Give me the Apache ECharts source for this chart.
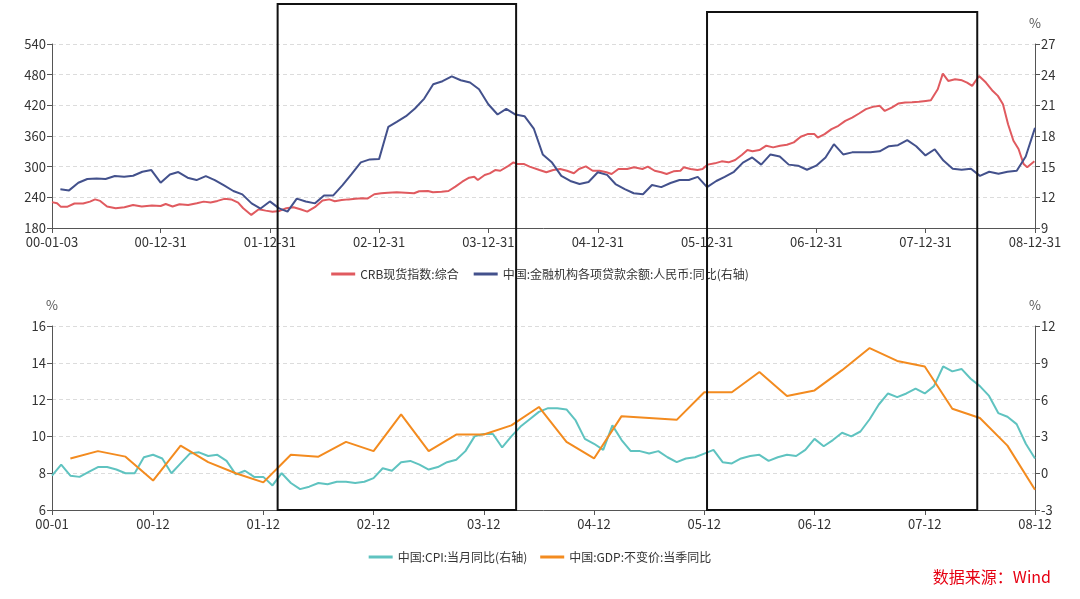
<!DOCTYPE html>
<html>
<head>
<meta charset="utf-8">
<script src="https://cdn.jsdelivr.net/npm/echarts@6/dist/echarts.min.js"></script>
<style>
html,body{margin:0;padding:0;background:#fff;}
#chart{width:1080px;height:599px;}
</style>
</head>
<body>
<div id="chart"></div>
<script>
// ---------- DATA ----------
const crbDates = ['2000-01-03','2000-01-20','2000-02-01','2000-02-24','2000-03-18','2000-04-16','2000-05-09','2000-05-26','2000-06-12','2000-07-05','2000-08-03','2000-09-01','2000-09-30','2000-10-29','2000-12-02','2000-12-31',
'2001-01-17','2001-02-09','2001-03-04','2001-04-02','2001-05-01','2001-05-24','2001-06-16','2001-07-09','2001-08-01','2001-08-24','2001-09-16','2001-10-03','2001-10-30','2001-11-24','2001-12-17',
'2002-01-09','2002-02-01','2002-02-24','2002-03-20','2002-04-12','2002-05-05','2002-06-02','2002-06-25','2002-07-18','2002-08-05','2002-08-28','2002-09-20','2002-10-13','2002-11-05','2002-11-22','2002-12-15',
'2003-01-07','2003-01-30','2003-02-28','2003-03-29','2003-04-27','2003-05-14','2003-06-12','2003-06-29','2003-07-28','2003-08-20','2003-09-12','2003-10-05','2003-10-28','2003-11-14','2003-11-26','2003-12-19',
'2004-01-05','2004-01-23','2004-02-09','2004-03-03','2004-03-24','2004-04-06','2004-04-29','2004-05-17','2004-06-19','2004-07-12','2004-08-04','2004-08-27','2004-09-19','2004-10-12','2004-10-29','2004-11-21','2004-12-14',
'2005-01-06','2005-01-29','2005-02-15','2005-03-10','2005-04-08','2005-05-01','2005-05-29','2005-06-16','2005-07-09','2005-07-31','2005-08-18','2005-09-10','2005-10-03','2005-10-14','2005-11-06','2005-11-29','2005-12-16',
'2006-01-02','2006-01-26','2006-02-18','2006-03-13','2006-04-04','2006-04-27','2006-05-15','2006-06-01','2006-06-24','2006-07-17','2006-08-09','2006-09-01','2006-09-24','2006-10-17','2006-11-09','2006-12-02','2006-12-25',
'2007-01-05','2007-01-28','2007-02-20','2007-03-15','2007-04-07','2007-04-30','2007-05-23','2007-06-15','2007-07-08','2007-07-31','2007-08-17','2007-09-09','2007-10-01','2007-10-24','2007-11-16','2007-12-09',
'2008-01-01','2008-01-18','2008-02-10','2008-02-27','2008-03-16','2008-04-08','2008-05-01','2008-05-18','2008-06-04','2008-06-27','2008-07-20','2008-08-12','2008-08-29','2008-09-15','2008-10-02','2008-10-20','2008-11-06','2008-11-23','2008-12-05','2008-12-29'];
const crbValues = [230.6,228.4,221.8,221.8,228,228,231.6,236,233,222,218.6,220.6,225,222,224,223,
227,222,226.4,225,228.4,231.6,230,233,237,236,229.6,218.6,205.6,216.6,214,
212,213.4,218.6,220.6,216.6,212,222,233.6,236,232.3,234.8,236,237,238,237.5,246,
247.9,249.2,249.8,249.2,247.9,251.8,252.4,249.8,251.1,252.4,261,270.6,278.4,280.4,273.9,283.7,
286.9,293.4,292,299.9,308.4,305,305,300,293.5,289,293.5,295.5,292,287,295.5,300.6,292,
292,289,285.7,295.5,295.5,298.7,295.5,300,292,289,285.7,290.9,292,298.7,295.5,293.5,295.5,
304,306.5,310.4,308.5,313,323.4,332.5,330,332.5,341,337.7,341,343,347.5,358.5,363.7,363.7,
357,363.7,373.5,380,389.7,396,404,412.5,417,419,409,415.7,423.5,425.5,426,426.8,
428.7,430,451.5,482,467.7,471,469,464.5,458,477.5,464.5,448,438.5,422,383,350.7,334.5,305,298.7,310.4];

// monthly, 2000-01 .. 2008-12
const loanValues = [
12.78,12.68,13.43,13.79,13.85,13.79,14.08,14.02,14.11,14.5,14.67,13.43,
14.24,14.47,13.92,13.69,14.08,13.69,13.17,12.62,12.29,11.41,10.9,11.6,
10.92,10.6,11.87,11.6,11.41,12.19,12.19,13.2,14.28,15.42,15.71,15.74,
18.9,19.39,19.94,20.69,21.66,23.06,23.36,23.84,23.45,23.23,22.57,21.11,
20.1,20.65,20.1,19.94,18.73,16.2,15.4,14.1,13.6,13.3,13.5,14.45,
14.2,13.3,12.8,12.4,12.3,13.2,13.0,13.4,13.7,13.7,14.0,13.0,
13.6,14.0,14.5,15.4,15.9,15.2,16.2,16.0,15.2,15.1,14.7,15.1,
15.9,17.2,16.2,16.4,16.4,16.4,16.5,17.0,17.1,17.6,17.0,16.1,
16.7,15.6,14.8,14.7,14.8,14.1,14.5,14.3,14.5,14.6,16.0,18.8];

const cpiValues = [
-0.2,0.7,-0.2,-0.3,0.1,0.5,0.5,0.3,0.0,0.0,1.3,1.5,
1.2,0.0,0.8,1.6,1.7,1.4,1.5,1.0,-0.1,0.2,-0.3,-0.3,
-1.0,0.0,-0.8,-1.3,-1.1,-0.8,-0.9,-0.7,-0.7,-0.8,-0.7,-0.4,
0.4,0.2,0.9,1.0,0.7,0.3,0.5,0.9,1.1,1.8,3.0,3.2,
3.2,2.1,3.0,3.8,4.4,5.0,5.3,5.3,5.2,4.3,2.8,2.4,
1.9,3.9,2.7,1.8,1.8,1.6,1.8,1.3,0.9,1.2,1.3,1.6,
1.9,0.9,0.8,1.2,1.4,1.5,1.0,1.3,1.5,1.4,1.9,2.8,
2.2,2.7,3.3,3.0,3.4,4.4,5.6,6.5,6.2,6.5,6.9,6.5,
7.1,8.7,8.3,8.5,7.7,7.1,6.3,4.9,4.6,4.0,2.4,1.2];

const gdpQuarters = ['00-03','00-06','00-09','00-12','01-03','01-06','01-09','01-12','02-03','02-06','02-09','02-12','03-03','03-06','03-09','03-12',
'04-03','04-06','04-09','04-12','05-03','05-06','05-09','05-12','06-03','06-06','06-09','06-12','07-03','07-06','07-09','07-12','08-03','08-06','08-09','08-12'];
const gdpValues = [8.8,9.2,8.9,7.6, 9.5,8.6,8.0,7.5, 9.0,8.9,9.7,9.2, 11.2,9.2,10.1,10.1,
10.6,11.6,9.7,8.8, 11.1,11.0,10.9,12.4, 12.4,13.5,12.2,12.5, 13.6,14.8,14.1,13.8, 11.5,11.0,9.5,7.1];

const topTickDates = ['2000-01-03','2000-12-31','2001-12-31','2002-12-31','2003-12-31','2004-12-31','2005-12-31','2006-12-31','2007-12-31','2008-12-31'];
const boxDates = [['2002-01-26','2004-04-02'],['2005-12-31','2008-06-21']];

const nameCRB = 'CRB现货指数:综合';
const nameLoan = '中国:金融机构各项贷款余额:人民币:同比(右轴)';
const nameCPI = '中国:CPI:当月同比(右轴)';
const nameGDP = '中国:GDP:不变价:当季同比';

// ---------- BUILD ----------
const ts = s => Date.parse(s + 'T00:00:00Z');
const crbData = crbDates.map((d, i) => [ts(d), crbValues[i]]);
const months = [];
for (let y = 2000; y <= 2008; y++) for (let m = 1; m <= 12; m++) months.push({y, m});
const loanData = months.map((o, i) => [Date.UTC(o.y, o.m, 0), loanValues[i]]);
const monthLabels = months.map(o => String(o.y % 100).padStart(2, '0') + '-' + String(o.m).padStart(2, '0'));
const gdpSeries = monthLabels.map(l => { const k = gdpQuarters.indexOf(l); return k >= 0 ? gdpValues[k] : null; });
const pad = n => String(n).padStart(2, '0');
const fmtDate = v => { const d = new Date(v); return pad(d.getUTCFullYear() % 100) + '-' + pad(d.getUTCMonth() + 1) + '-' + pad(d.getUTCDate()); };
const showMonth = (idx) => idx === 0 || months[idx].m === 12;

const FONT = "'Noto Sans CJK SC', 'Noto Sans', sans-serif";
const AX = '#555';
const LBL = '#333';
const splitLine = {show: true, lineStyle: {color: '#dcdcdc', type: [4, 3], width: 1}};
const yBase = (extra) => Object.assign({
  axisLine: {show: true, lineStyle: {color: AX}},
  axisTick: {show: true, length: 5, lineStyle: {color: AX}},
  axisLabel: {color: LBL, fontSize: 13, fontFamily: FONT, margin: 6},
  nameTextStyle: {color: '#555', fontSize: 13, fontFamily: FONT},
  splitLine: {show: false}
}, extra);

const chart = echarts.init(document.getElementById('chart'));
const topTicks = topTickDates.map(ts);
chart.setOption({
  animation: false,
  backgroundColor: '#fff',
  textStyle: {fontFamily: FONT},
  grid: [
    {left: 52, right: 45, top: 44, height: 184},
    {left: 52, right: 45, top: 326, height: 184}
  ],
  legend: [
    {data: [nameCRB, nameLoan], top: 263, left: 'center', icon: 'rect', itemWidth: 24, itemHeight: 3, itemGap: 15,
     textStyle: {color: '#333', fontSize: 12, fontFamily: FONT}},
    {data: [nameCPI, nameGDP], top: 546, left: 'center', icon: 'rect', itemWidth: 24, itemHeight: 3, itemGap: 13,
     textStyle: {color: '#333', fontSize: 12, fontFamily: FONT}}
  ],
  xAxis: [
    {type: 'value', gridIndex: 0, min: ts('2000-01-03'), max: ts('2008-12-31'),
     axisLine: {onZero: false, lineStyle: {color: AX}},
     axisTick: {show: true, length: 5, customValues: topTicks, lineStyle: {color: AX}},
     axisLabel: {customValues: topTicks, formatter: fmtDate, color: LBL, fontSize: 13, fontFamily: FONT, margin: 8},
     splitLine: {show: false}},
    {type: 'category', gridIndex: 1, data: monthLabels, boundaryGap: false,
     axisLine: {onZero: false, lineStyle: {color: AX}},
     axisTick: {show: true, length: 5, interval: (i) => showMonth(i), lineStyle: {color: AX}},
     axisLabel: {interval: (i) => showMonth(i), color: LBL, fontSize: 13, fontFamily: FONT, margin: 8},
     splitLine: {show: false}}
  ],
  yAxis: [
    yBase({type: 'value', gridIndex: 0, min: 180, max: 540, interval: 60, position: 'left', splitLine: splitLine}),
    yBase({type: 'value', gridIndex: 0, min: 9, max: 27, interval: 3, position: 'right', name: '%', nameGap: 14}),
    yBase({type: 'value', gridIndex: 1, min: 6, max: 16, interval: 2, position: 'left', name: '%', nameGap: 14, splitLine: splitLine}),
    yBase({type: 'value', gridIndex: 1, min: -3, max: 12, interval: 3, position: 'right', name: '%', nameGap: 14})
  ],
  series: [
    {name: nameCRB, type: 'line', xAxisIndex: 0, yAxisIndex: 0, data: crbData, showSymbol: false, symbol: 'none',
     lineStyle: {color: '#e05a5f', width: 2}, itemStyle: {color: '#e05a5f'}},
    {name: nameLoan, type: 'line', xAxisIndex: 0, yAxisIndex: 1, data: loanData, showSymbol: false, symbol: 'none',
     lineStyle: {color: '#43518c', width: 2}, itemStyle: {color: '#43518c'}},
    {name: nameCPI, type: 'line', xAxisIndex: 1, yAxisIndex: 3, data: cpiValues, showSymbol: false, symbol: 'none',
     lineStyle: {color: '#5fc3c0', width: 2}, itemStyle: {color: '#5fc3c0'}},
    {name: nameGDP, type: 'line', xAxisIndex: 1, yAxisIndex: 2, data: gdpSeries, connectNulls: true, showSymbol: false, symbol: 'none',
     lineStyle: {color: '#f38b1f', width: 2}, itemStyle: {color: '#f38b1f'}}
  ]
});

// annotation boxes & source text
const bottomY = chart.convertToPixel({yAxisIndex: 2}, 6);
const boxTops = [4, 12];
const graphics = boxDates.map((b, i) => {
  const x1 = chart.convertToPixel({xAxisIndex: 0}, ts(b[0]));
  const x2 = chart.convertToPixel({xAxisIndex: 0}, ts(b[1]));
  return {type: 'rect', id: 'box' + i, z: 100, silent: true,
    shape: {x: x1, y: boxTops[i], width: x2 - x1, height: bottomY - boxTops[i]},
    style: {fill: 'none', stroke: '#111', lineWidth: 2}};
});
graphics.push({type: 'text', id: 'src', right: 29, top: 569, z: 100,
  style: {text: '数据来源：Wind', fill: '#e60012', fontSize: 16, fontFamily: FONT}});
chart.setOption({graphic: graphics});
</script>
</body>
</html>
